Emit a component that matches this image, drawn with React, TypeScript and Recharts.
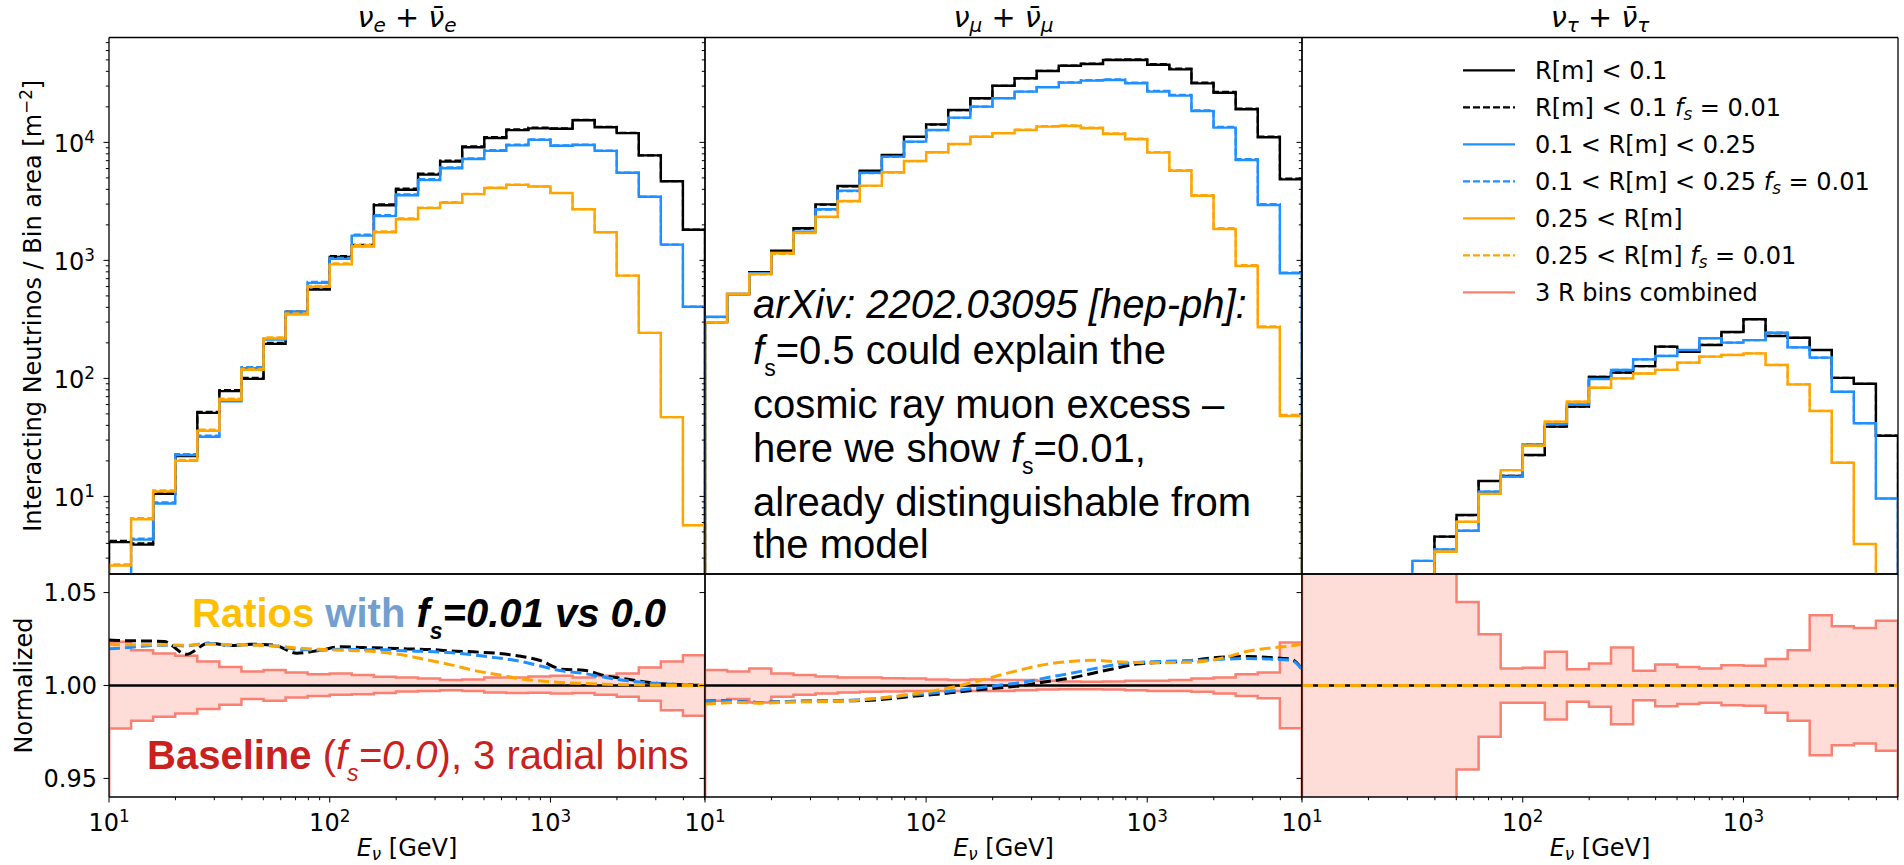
import React from 'react';
import { ComposedChart, Line, Area, XAxis, YAxis } from 'recharts';

// ---------- axes / categories ----------
const E_EDGES = [10, 12.59, 15.85, 19.95, 25.12, 31.62, 39.81, 50.12, 63.1, 79.43, 100, 125.9, 158.5, 199.5, 251.2, 316.2, 398.1, 501.2, 631, 794.3, 1000, 1259, 1585, 1995, 2512, 3162, 3981, 5012];
const RATIO_E = [10, 11.22, 14.13, 17.78, 22.39, 28.18, 35.48, 44.67, 56.23, 70.79, 89.13, 112.2, 141.3, 177.8, 223.9, 281.8, 354.8, 446.7, 562.3, 707.9, 891.3, 1122, 1413, 1778, 2239, 2818, 3548, 4467, 5012];
const X_MAJOR = [10, 100, 1000];
const X_MINOR = [20, 30, 40, 50, 60, 70, 80, 90, 200, 300, 400, 500, 600, 700, 800, 900, 2000, 3000, 4000, 5000];
const Y_MAJOR = [10, 100, 1000, 10000];
const Y_MINOR = [3, 4, 5, 6, 7, 8, 9, 20, 30, 40, 50, 60, 70, 80, 90, 200, 300, 400, 500, 600, 700, 800, 900, 2000, 3000, 4000, 5000, 6000, 7000, 8000, 9000, 20000, 30000, 40000, 50000, 60000, 70000];
const R_TICKS = [0.95, 1.0, 1.05];
const UNITY = [1, 1];

// ---------- nu_e + nubar_e ----------
const NUE_R1 = [4.1, 3.9, 10.5, 22, 51, 78, 99, 196, 361, 565, 1067, 1325, 2930, 3970, 5330, 6870, 9100, 10900, 12700, 13150, 13060, 15400, 13450, 11980, 7760, 4690, 1820];
const NUE_R2 = [1.5, 4.3, 8.7, 22.4, 32, 64, 122, 213, 363, 645, 1030, 1620, 2370, 3560, 4790, 6040, 7220, 8470, 9440, 10500, 9370, 9500, 8470, 5530, 3460, 1360, 405];
const NUE_R3 = [2.6, 6.4, 11, 20, 36, 66, 118, 218, 348, 598, 925, 1325, 1730, 2230, 2770, 3080, 3640, 4110, 4360, 4230, 3720, 2710, 1730, 743, 243, 47, 5.7];
const NUE_Q1 = [1.0245, 1.0242, 1.024, 1.0237, 1.0168, 1.0228, 1.0215, 1.0222, 1.0217, 1.0174, 1.0188, 1.0208, 1.0204, 1.0201, 1.0197, 1.0194, 1.0186, 1.0181, 1.0174, 1.016, 1.0136, 1.0088, 1.0082, 1.0052, 1.0034, 1.0016, 1.0007, 1.0002, 1.0];
const NUE_Q2 = [1.0198, 1.0201, 1.0211, 1.0217, 1.0213, 1.0228, 1.0217, 1.0219, 1.0213, 1.0195, 1.019, 1.0195, 1.0193, 1.0192, 1.0186, 1.0183, 1.0176, 1.0165, 1.015, 1.0133, 1.0106, 1.0079, 1.0065, 1.0043, 1.0025, 1.0014, 1.0007, 1.0002, 1.0];
const NUE_Q3 = [1.0222, 1.0219, 1.0219, 1.0219, 1.0217, 1.0222, 1.0219, 1.0217, 1.0213, 1.0202, 1.0195, 1.019, 1.0186, 1.0177, 1.016, 1.0136, 1.0111, 1.0082, 1.0061, 1.0039, 1.0025, 1.0016, 1.0011, 1.0007, 1.0004, 1.0002, 1.0, 1.0, 1.0];
const NUE_UP = [1.0235, 1.019, 1.0172, 1.016, 1.0129, 1.01, 1.0075, 1.0084, 1.007, 1.0061, 1.0065, 1.0057, 1.0047, 1.0043, 1.0038, 1.0029, 1.0032, 1.0043, 1.0043, 1.0048, 1.0052, 1.0043, 1.0052, 1.0065, 1.0097, 1.0129, 1.0163];
const NUE_LO = [0.9769, 0.981, 0.9832, 0.985, 0.9873, 0.9896, 0.9927, 0.9918, 0.9935, 0.9944, 0.995, 0.9953, 0.9959, 0.9968, 0.9971, 0.9975, 0.9971, 0.9962, 0.9959, 0.9961, 0.9957, 0.9959, 0.995, 0.9939, 0.9918, 0.9867, 0.9837];

// ---------- nu_mu + nubar_mu ----------
const NUM_R1 = [300, 519, 793, 1208, 1871, 2985, 4265, 5750, 7820, 11170, 14220, 18820, 23660, 30230, 34900, 40270, 44640, 46130, 49870, 49870, 45500, 41580, 31630, 26350, 19060, 11050, 4860];
const NUM_R2 = [333, 515, 778, 1162, 1750, 2710, 3900, 5530, 7570, 10140, 12740, 16200, 20080, 23660, 26940, 29330, 32080, 33360, 33800, 31670, 26940, 24900, 18450, 13330, 7100, 2950, 778];
const NUM_R3 = [299, 519, 767, 1148, 1717, 2345, 3185, 4300, 5580, 6950, 8240, 9680, 11170, 11940, 12740, 13590, 13770, 13160, 11780, 10620, 8180, 5750, 3530, 1846, 897, 271, 48];
const NUM_Q1 = [0.9915, 0.9918, 0.9914, 0.9909, 0.9912, 0.9914, 0.9916, 0.9918, 0.9921, 0.993, 0.9943, 0.9953, 0.9966, 0.9978, 0.9989, 1.0002, 1.0022, 1.0039, 1.0065, 1.0091, 1.0115, 1.0124, 1.0129, 1.0142, 1.0154, 1.0156, 1.0151, 1.0142, 1.0088];
const NUM_Q2 = [0.9915, 0.9918, 0.9914, 0.9909, 0.9912, 0.9918, 0.9918, 0.9921, 0.9927, 0.9939, 0.995, 0.9962, 0.9975, 0.9989, 1.0004, 1.002, 1.0043, 1.0065, 1.0088, 1.0111, 1.0124, 1.0129, 1.0133, 1.0136, 1.0142, 1.0145, 1.0142, 1.0136, 1.0088];
const NUM_Q3 = [0.99, 0.9903, 0.9909, 0.9905, 0.9909, 0.9912, 0.9914, 0.9918, 0.9927, 0.994, 0.9957, 0.9975, 0.9998, 1.0029, 1.0061, 1.0091, 1.0115, 1.0129, 1.0136, 1.0129, 1.0124, 1.0122, 1.0124, 1.0129, 1.0151, 1.0183, 1.0201, 1.0213, 1.0222];
const NUM_UP = [1.0084, 1.0075, 1.0091, 1.0065, 1.0056, 1.0048, 1.0043, 1.0043, 1.0039, 1.0038, 1.0032, 1.0029, 1.0032, 1.0029, 1.0029, 1.0025, 1.0022, 1.002, 1.0022, 1.0025, 1.0025, 1.0029, 1.0038, 1.0043, 1.0061, 1.007, 1.0231];
const NUM_LO = [0.9918, 0.9927, 0.9909, 0.9939, 0.995, 0.9957, 0.9962, 0.9966, 0.9968, 0.9971, 0.9971, 0.9971, 0.9971, 0.9971, 0.9975, 0.9978, 0.998, 0.998, 0.9978, 0.9975, 0.9971, 0.9971, 0.9966, 0.9957, 0.9944, 0.9932, 0.977];

// ---------- nu_tau + nubar_tau ----------
const NUT_R1 = [1, 1, 1, 1, 1, 1.5, 4.56, 6.95, 13.5, 14.9, 22.4, 39, 57.6, 103, 112, 127, 186, 168, 192, 247, 317, 229, 221, 174, 101, 90, 32.7];
const NUT_R2 = [1, 1, 1, 1, 1, 2.84, 3.56, 5.12, 10.96, 14.7, 27.6, 41, 60, 98.8, 118, 145, 155, 174, 219, 201, 211, 244, 183, 150, 77, 41.7, 9.6];
const NUT_R3 = [1, 1, 1, 1, 1, 1, 3.4, 6.1, 10.5, 16.7, 26.9, 43, 63.5, 83.4, 100, 110, 118, 136, 153, 158, 163, 130, 89, 53, 19.3, 3.95, 1.5];
const NUT_Q1 = [1, 1, 1, 1, 1, 1, 1, 1, 1, 1, 1, 1, 1, 1, 1, 1, 1, 1, 1, 1, 1, 1, 1, 1, 1, 1, 1, 1, 1];
const NUT_Q2 = [1, 1, 1, 1, 1, 1, 1, 1, 1, 1, 1, 1, 1, 1, 1, 1, 1, 1, 1, 1, 1, 1, 1, 1, 1, 1, 1, 1, 1];
const NUT_Q3 = [1, 1, 1, 1, 1, 1, 1, 1, 1, 1, 1, 1, 1, 1, 1, 1, 1, 1, 1, 1, 1, 1, 1, 1, 1, 1, 1, 1, 1];
const NUT_UP = [1.1, 1.1, 1.1, 1.1, 1.1, 1.1, 1.1, 1.045, 1.0276, 1.0091, 1.0095, 1.0181, 1.0088, 1.0118, 1.0204, 1.0079, 1.0113, 1.01, 1.0091, 1.0109, 1.0106, 1.0142, 1.019, 1.0378, 1.0319, 1.031, 1.0348];
const NUT_LO = [0.9, 0.9, 0.9, 0.9, 0.9, 0.9, 0.9, 0.9548, 0.9724, 0.9907, 0.9907, 0.9817, 0.9912, 0.9885, 0.9792, 0.9921, 0.9889, 0.99, 0.9907, 0.9894, 0.9891, 0.9853, 0.981, 0.9624, 0.9679, 0.9688, 0.9649];

const FLAVOURS = ['e', 'μ', 'τ'];

const LEGEND_ITEMS = [
  { label: 'R[m] < 0.1', fs: false, color: '#000000', dashed: false },
  { label: 'R[m] < 0.1', fs: true, color: '#000000', dashed: true },
  { label: '0.1 < R[m] < 0.25', fs: false, color: '#1e90ff', dashed: false },
  { label: '0.1 < R[m] < 0.25', fs: true, color: '#1e90ff', dashed: true },
  { label: '0.25 < R[m]', fs: false, color: '#ffa500', dashed: false },
  { label: '0.25 < R[m]', fs: true, color: '#ffa500', dashed: true },
  { label: '3 R bins combined', fs: false, color: '#fa8072', dashed: false },
];

const ANNOT_LINES = [
  'arXiv: 2202.03095 [hep-ph]:',
  '=0.5 could explain the',
  'cosmic ray muon excess –',
  'here we show ',
  'already distinguishable from',
  'the model',
];

// ---------- layout ----------
const W = 1904;
const H = 865;
const COL_L = [109, 705, 1302];
const COL_R = [705, 1302, 1898];
const TOP_T = 37.5;
const TOP_B = 574;
const LOW_T = 574;
const LOW_B = 797;
const MPL = 'DejaVu Sans';
const LO = 'Liberation Sans';
const BLACK = '#000000';
const BLUE = '#1e90ff';
const ORANGE = '#ffa500';
const SALMON = '#fa8072';
const TOP_DOMAIN: [number, number] = [2.2, 77400];
const LOW_DOMAIN: [number, number] = [0.94, 1.06];
const X_DOMAIN: [number, number] = [10, 5012];
const MAJOR_LEN = 5.5;
const MINOR_LEN = 3.2;

const PANELS = [
  { r: [NUE_R1, NUE_R2, NUE_R3], q: [NUE_Q1, NUE_Q2, NUE_Q3], up: NUE_UP, lo: NUE_LO },
  { r: [NUM_R1, NUM_R2, NUM_R3], q: [NUM_Q1, NUM_Q2, NUM_Q3], up: NUM_UP, lo: NUM_LO },
  { r: [NUT_R1, NUT_R2, NUT_R3], q: [NUT_Q1, NUT_Q2, NUT_Q3], up: NUT_UP, lo: NUT_LO },
];
const COLORS = [BLACK, BLUE, ORANGE];

function stepRows(vals: number[], base: number) {
  const rows: { x: number; y: number }[] = [{ x: E_EDGES[0], y: base }];
  vals.forEach((v, i) => rows.push({ x: E_EDGES[i], y: v }));
  rows.push({ x: E_EDGES[E_EDGES.length - 1], y: vals[vals.length - 1] });
  rows.push({ x: E_EDGES[E_EDGES.length - 1], y: base });
  return rows;
}
function bandRows(lo: number[], up: number[]) {
  return E_EDGES.map((x, i) => {
    const k = Math.min(i, lo.length - 1);
    return { x, band: [lo[k], up[k]] };
  });
}
function ratioRows(q: number[]) {
  return RATIO_E.map((x, i) => ({ x, y: q[i] }));
}

const FRAME = { stroke: '#000', strokeWidth: 1.3 };

function makeXTick(withLabel: boolean) {
  return (props: any) => {
    const { x, payload } = props;
    const v = payload.value;
    const major = X_MAJOR.includes(v);
    const len = major ? MAJOR_LEN : MINOR_LEN;
    const exp = Math.round(Math.log10(v));
    return (
      <g>
        <line x1={x} x2={x} y1={LOW_B} y2={LOW_B + len} stroke="#000" strokeWidth={1} />
        {major && withLabel ? (
          <text x={x} y={LOW_B + 34} textAnchor="middle" fontFamily={MPL} fontSize={24} fill="#000">
            10<tspan dy={-9} fontSize={16.8}>{exp}</tspan>
          </text>
        ) : null}
      </g>
    );
  };
}
function makeYLogTick(col: number) {
  return (props: any) => {
    const { y, payload } = props;
    const v = payload.value;
    const major = Y_MAJOR.includes(v);
    const len = major ? MAJOR_LEN : MINOR_LEN;
    const ax = COL_L[col];
    const exp = Math.round(Math.log10(v));
    return (
      <g>
        <line x1={ax - len} x2={ax} y1={y} y2={y} stroke="#000" strokeWidth={1} />
        {major && col === 0 ? (
          <text x={95} y={y + 9.5} textAnchor="end" fontFamily={MPL} fontSize={24} fill="#000">
            10<tspan dy={-9} fontSize={16.8}>{exp}</tspan>
          </text>
        ) : null}
      </g>
    );
  };
}
function makeYRatioTick(col: number) {
  return (props: any) => {
    const { y, payload } = props;
    const ax = COL_L[col];
    return (
      <g>
        <line x1={ax - MAJOR_LEN} x2={ax} y1={y} y2={y} stroke="#000" strokeWidth={1} />
        {col === 0 ? (
          <text x={97} y={y + 8.7} textAnchor="end" fontFamily={MPL} fontSize={24} fill="#000">
            {Number(payload.value).toFixed(2)}
          </text>
        ) : null}
      </g>
    );
  };
}

function TopPanel({ col }: { col: number }) {
  const p = PANELS[col];
  const margin = { left: COL_L[col] - 1, right: W - COL_R[col] - 1, top: TOP_T - 1, bottom: H - TOP_B - 1 };
  const series: React.ReactNode[] = [];
  p.r.forEach((vals, s) => {
    const dashedVals = vals.map((v, i) => v * p.q[s][i + 1]);
    series.push(
      <Line key={'s' + s} xAxisId="b" yAxisId="y" data={stepRows(vals, 0.5)} dataKey="y" type="stepAfter"
        stroke={COLORS[s]} strokeWidth={2.4} dot={false} activeDot={false} isAnimationActive={false} />
    );
    series.push(
      <Line key={'d' + s} xAxisId="b" yAxisId="y" data={stepRows(dashedVals, 0.5)} dataKey="y" type="stepAfter"
        stroke={COLORS[s]} strokeWidth={2.2} strokeDasharray="7 3" dot={false} activeDot={false} isAnimationActive={false} />
    );
  });
  return (
    <div style={{ position: 'absolute', left: 0, top: 0 }}>
      <ComposedChart width={W} height={H} margin={margin}>
        <XAxis xAxisId="b" type="number" dataKey="x" scale="log" domain={X_DOMAIN} allowDataOverflow
          ticks={X_MAJOR} tick={false} tickLine={false} axisLine={FRAME} height={1} stroke="#000" />
        <XAxis xAxisId="t" orientation="top" type="number" dataKey="x" scale="log" domain={X_DOMAIN} allowDataOverflow
          ticks={X_MAJOR} tick={false} tickLine={false} axisLine={FRAME} height={1} stroke="#000" />
        <YAxis yAxisId="y" type="number" scale="log" domain={TOP_DOMAIN} allowDataOverflow
          ticks={[...Y_MINOR, ...Y_MAJOR]} interval={0}
          tick={makeYLogTick(col)} tickLine={false} axisLine={FRAME} width={1} stroke="#000" />
        <YAxis yAxisId="r" orientation="right" type="number" scale="log" domain={TOP_DOMAIN} allowDataOverflow
          ticks={Y_MAJOR} tick={false} tickLine={false} axisLine={FRAME} width={1} stroke="#000" />
        {series}
      </ComposedChart>
    </div>
  );
}

function LowPanel({ col }: { col: number }) {
  const p = PANELS[col];
  const margin = { left: COL_L[col] - 1, right: W - COL_R[col] - 1, top: LOW_T - 1, bottom: H - LOW_B - 1 };
  return (
    <div style={{ position: 'absolute', left: 0, top: 0 }}>
      <ComposedChart width={W} height={H} margin={margin}>
        <XAxis xAxisId="b" type="number" dataKey="x" scale="log" domain={X_DOMAIN} allowDataOverflow
          ticks={[...X_MINOR, ...X_MAJOR]} interval={0} tick={makeXTick(true)} tickLine={false}
          axisLine={FRAME} height={1} stroke="#000" />
        <XAxis xAxisId="t" orientation="top" type="number" dataKey="x" scale="log" domain={X_DOMAIN} allowDataOverflow
          ticks={X_MAJOR} tick={false} tickLine={false} axisLine={FRAME} height={1} stroke="#000" />
        <YAxis yAxisId="y" type="number" domain={LOW_DOMAIN} allowDataOverflow ticks={R_TICKS} interval={0}
          tick={makeYRatioTick(col)} tickLine={false} axisLine={FRAME} width={1} stroke="#000" />
        <YAxis yAxisId="r" orientation="right" type="number" domain={LOW_DOMAIN} allowDataOverflow
          ticks={R_TICKS} tick={false} tickLine={false} axisLine={FRAME} width={1} stroke="#000" />
        <Area xAxisId="b" yAxisId="y" data={bandRows(p.lo, p.up)} dataKey="band" type="stepAfter"
          stroke="none" fill={SALMON} fillOpacity={0.27} isAnimationActive={false} activeDot={false} />
        <Line xAxisId="b" yAxisId="y" data={stepRows(p.up, 0.9)} dataKey="y" type="stepAfter"
          stroke={SALMON} strokeWidth={2.5} dot={false} activeDot={false} isAnimationActive={false} />
        <Line xAxisId="b" yAxisId="y" data={stepRows(p.lo, 0.9)} dataKey="y" type="stepAfter"
          stroke={SALMON} strokeWidth={2.5} dot={false} activeDot={false} isAnimationActive={false} />
        <Line xAxisId="b" yAxisId="y" data={[{ x: X_DOMAIN[0], y: UNITY[0] }, { x: X_DOMAIN[1], y: UNITY[1] }]} dataKey="y"
          stroke={BLACK} strokeWidth={2.5} dot={false} activeDot={false} isAnimationActive={false} />
        {p.q.map((q, s) => (
          <Line key={s} xAxisId="b" yAxisId="y" data={ratioRows(q)} dataKey="y" type="monotone"
            stroke={COLORS[s]} strokeWidth={3} strokeDasharray="11 5" dot={false} activeDot={false} isAnimationActive={false} />
        ))}
      </ComposedChart>
    </div>
  );
}

function Texts() {
  const cx = (c: number) => (COL_L[c] + COL_R[c]) / 2;
  return (
    <svg width={W} height={H} style={{ position: 'absolute', left: 0, top: 0 }}>
      {FLAVOURS.map((f, c) => (
        <text key={'t' + c} x={cx(c)} y={27} textAnchor="middle" fontFamily={MPL} fontSize={28.8} fill="#000">
          <tspan fontStyle="italic">ν</tspan>
          <tspan fontStyle="italic" fontSize={20} dy={5}>{f}</tspan>
          <tspan dy={-5}> + </tspan>
          <tspan fontStyle="italic">{'ν\u0304'}</tspan>
          <tspan fontStyle="italic" fontSize={20} dy={5}>{f}</tspan>
        </text>
      ))}
      {[0, 1, 2].map((c) => (
        <text key={'x' + c} x={cx(c)} y={856} textAnchor="middle" fontFamily={MPL} fontSize={24} fill="#000">
          <tspan fontStyle="italic">E</tspan>
          <tspan fontStyle="italic" fontSize={16.8} dy={3.5}>ν</tspan>
          <tspan dy={-3.5}> [GeV]</tspan>
        </text>
      ))}
      <text x={41} y={(TOP_T + TOP_B) / 2} transform={`rotate(-90 41 ${(TOP_T + TOP_B) / 2})`} textAnchor="middle"
        fontFamily={MPL} fontSize={24} fill="#000">
        Interacting Neutrinos / Bin area [m<tspan dy={-9} fontSize={16.8}>−2</tspan><tspan dy={9}>]</tspan>
      </text>
      <text x={32} y={(LOW_T + LOW_B) / 2} transform={`rotate(-90 32 ${(LOW_T + LOW_B) / 2})`} textAnchor="middle"
        fontFamily={MPL} fontSize={24} fill="#000">Normalized</text>

      {/* legend */}
      {LEGEND_ITEMS.map((it, k) => {
        const y = 70.3 + 37 * k;
        return (
          <g key={'l' + k}>
            <line x1={1463} x2={1515} y1={y} y2={y} stroke={it.color} strokeWidth={2.2}
              strokeDasharray={it.dashed ? '7 3' : undefined} />
            <text x={1535} y={y + 8.7} fontFamily={MPL} fontSize={24} fill="#000">
              {it.label}
              {it.fs ? <tspan fontStyle="italic"> f</tspan> : null}
              {it.fs ? <tspan fontStyle="italic" fontSize={16.8} dy={4}>s</tspan> : null}
              {it.fs ? <tspan dy={-4}> = 0.01</tspan> : null}
            </text>
          </g>
        );
      })}

      {/* annotation in the middle panel */}
      <text x={753} y={318} fontFamily={LO} fontSize={40} fontStyle="italic" fill="#000">{ANNOT_LINES[0]}</text>
      <text x={753} y={364} fontFamily={LO} fontSize={40} fill="#000">
        <tspan fontStyle="italic">f</tspan><tspan fontSize={23} dy={12}>s</tspan><tspan dy={-12}>{ANNOT_LINES[1]}</tspan>
      </text>
      <text x={753} y={418} fontFamily={LO} fontSize={40} fill="#000">{ANNOT_LINES[2]}</text>
      <text x={753} y={462} fontFamily={LO} fontSize={40} fill="#000">
        {ANNOT_LINES[3]}<tspan fontStyle="italic">f</tspan><tspan fontSize={23} dy={12}>s</tspan><tspan dy={-12}>=0.01,</tspan>
      </text>
      <text x={753} y={516} fontFamily={LO} fontSize={40} fill="#000">{ANNOT_LINES[4]}</text>
      <text x={753} y={558} fontFamily={LO} fontSize={40} fill="#000">{ANNOT_LINES[5]}</text>

      {/* ratio panel captions */}
      <text x={192} y={627} fontFamily={LO} fontSize={40} fontWeight="bold">
        <tspan fill="#ffbf00">Ratios </tspan>
        <tspan fill="#729fcf">with </tspan>
        <tspan fill="#000" fontStyle="italic">f</tspan>
        <tspan fill="#000" fontStyle="italic" fontSize={23} dy={12}>s</tspan>
        <tspan fill="#000" fontStyle="italic" dy={-12}>=0.01 vs 0.0</tspan>
      </text>
      <text x={147} y={769} fontFamily={LO} fontSize={40} fill="#c9211e">
        <tspan fontWeight="bold">Baseline</tspan>
        <tspan> (</tspan>
        <tspan fontStyle="italic">f</tspan>
        <tspan fontStyle="italic" fontSize={23} dy={12}>s</tspan>
        <tspan fontStyle="italic" dy={-12}>=0.0</tspan>
        <tspan>), 3 radial bins</tspan>
      </text>
    </svg>
  );
}

export default function App() {
  return (
    <div style={{ position: 'absolute', left: 0, top: 0, width: W, height: H, background: '#fff', overflow: 'hidden' }}>
      {[0, 1, 2].map((c) => <LowPanel key={'lp' + c} col={c} />)}
      {[0, 1, 2].map((c) => <TopPanel key={'tp' + c} col={c} />)}
      <Texts />
    </div>
  );
}
